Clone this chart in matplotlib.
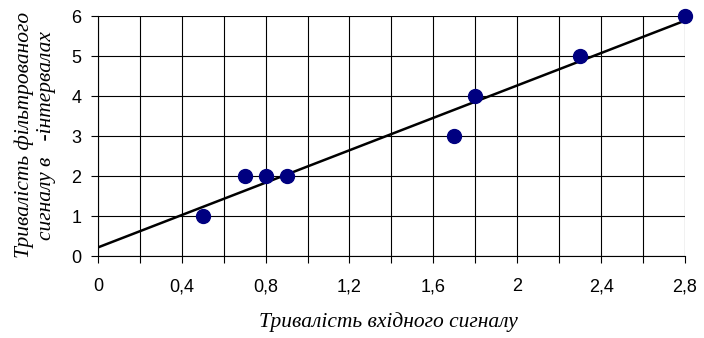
import matplotlib.pyplot as plt
import numpy as np

x_in = [0.5, 0.7, 0.8, 0.9, 1.7, 1.8, 2.3, 2.8]
y_out = [1, 2, 2, 2, 3, 4, 5, 6]

x_ticks = [0, 0.4, 0.8, 1.2, 1.6, 2.0, 2.4, 2.8]
x_tick_labels = ["0", "0,4", "0,8", "1,2", "1,6", "2", "2,4", "2,8"]
y_ticks = [0, 1, 2, 3, 4, 5, 6]

x_label = "Тривалість вхідного сигналу"
y_label = "Тривалість фільтрованого\nсигналу в   -інтервалах"

fig = plt.figure(figsize=(7.04, 3.38), dpi=100)
ax = fig.add_axes([0.139, 0.2426, 0.834, 0.71])

# linear trend line over the full x range
k, b = np.polyfit(x_in, y_out, 1)
xs = np.array([0.0, 2.8])
ax.plot(xs, k * xs + b, color="black", lw=1.8, zorder=3)

ax.plot(x_in, y_out, "o", color="#000080", ms=10, zorder=4, clip_on=False)

ax.set_xlim(0, 2.8)
ax.set_ylim(0, 6)
ax.set_xticks(x_ticks)
ax.set_xticks(np.arange(0.2, 2.8, 0.4), minor=True)
ax.set_xticklabels(x_tick_labels)
ax.set_yticks(y_ticks)

ax.grid(True, which="both", color="black", lw=0.8)
ax.tick_params(which="both", direction="out", length=5, width=0.8,
               labelsize=13, colors="black")
ax.tick_params(axis="x", pad=11)
ax.tick_params(axis="y", pad=7)
for lab in ax.get_xticklabels() + ax.get_yticklabels():
    lab.set_fontfamily("Liberation Sans")

for side in ["top", "right"]:
    ax.spines[side].set_visible(False)
for side in ["left", "bottom"]:
    ax.spines[side].set_linewidth(0.8)

fig.text(0.551, 0.047, x_label, fontsize=15.5, fontstyle="italic",
         fontfamily="Liberation Serif", ha="center", va="center")
fig.text(0.05, 0.6, y_label, fontsize=15.5, fontstyle="italic",
         fontfamily="Liberation Serif", ha="center", va="center",
         rotation=90, multialignment="center", linespacing=1.25)

fig.savefig("out.png", dpi=100)
